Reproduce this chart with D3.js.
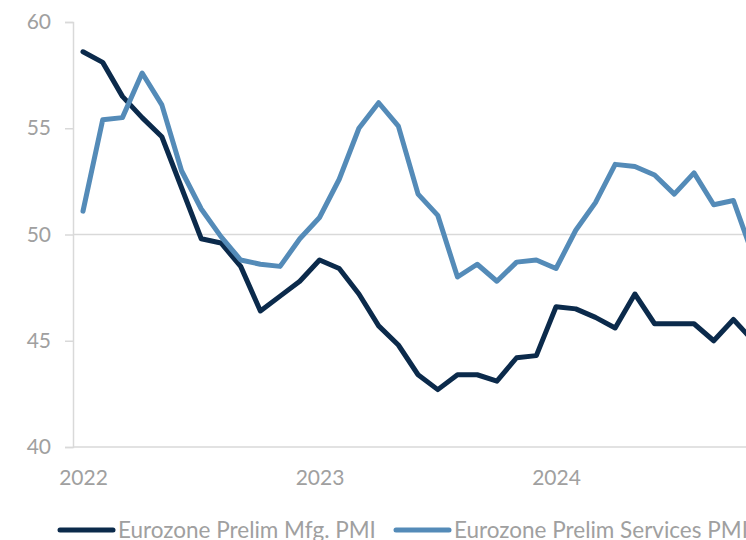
<!DOCTYPE html>
<html>
<head>
<meta charset="utf-8">
<script src="https://cdn.jsdelivr.net/npm/d3@7"></script>
<style>
  html, body { margin: 0; padding: 0; background: #fff; overflow: hidden; }
  svg { display: block; }
  text { font-family: Lato, "Noto Sans", sans-serif; fill: #a0a0a0; }
</style>
</head>
<body>
<svg id="chart" width="746" height="540"></svg>
<script>
const months = [
  "2022-01","2022-02","2022-03","2022-04","2022-05","2022-06","2022-07","2022-08","2022-09","2022-10","2022-11","2022-12",
  "2023-01","2023-02","2023-03","2023-04","2023-05","2023-06","2023-07","2023-08","2023-09","2023-10","2023-11","2023-12",
  "2024-01","2024-02","2024-03","2024-04","2024-05","2024-06","2024-07","2024-08","2024-09","2024-10","2024-11"
];
const mfgPMI = [
  58.6, 58.1, 56.5, 55.5, 54.6, 52.2, 49.8, 49.6, 48.5, 46.4, 47.1, 47.8,
  48.8, 48.4, 47.2, 45.7, 44.8, 43.4, 42.7, 43.4, 43.4, 43.1, 44.2, 44.3,
  46.6, 46.5, 46.1, 45.6, 47.2, 45.8, 45.8, 45.8, 45.0, 46.0, 45.0
];
const servicesPMI = [
  51.1, 55.4, 55.5, 57.6, 56.1, 53.0, 51.2, 49.9, 48.8, 48.6, 48.5, 49.8,
  50.8, 52.6, 55.0, 56.2, 55.1, 51.9, 50.9, 48.0, 48.6, 47.8, 48.7, 48.8,
  48.4, 50.2, 51.5, 53.3, 53.2, 52.8, 51.9, 52.9, 51.4, 51.6, 49.0
];
const seriesNames = ["Eurozone Prelim Mfg. PMI", "Eurozone Prelim Services PMI"];
const seriesColors = ["#0b2a4b", "#548bb8"];
const yTicks = [40, 45, 50, 55, 60];
const xTickMonths = ["2022-01", "2023-01", "2024-01"];
const xTickLabels = ["2022", "2023", "2024"];

const svg = d3.select("#chart");
const x = d3.scalePoint().domain(months).range([83, 83 + 34 * 19.71]);
const y = d3.scaleLinear().domain([40, 60]).range([447, 22]);

// gridline at 50
svg.append("line")
  .attr("x1", 73).attr("x2", 746)
  .attr("y1", y(50)).attr("y2", y(50))
  .attr("stroke", "#d9d9d9").attr("stroke-width", 1.5);

// y axis
const yAxis = svg.append("g").attr("transform", "translate(73,0)")
  .call(d3.axisLeft(y).tickValues(yTicks).tickSize(8).tickPadding(14).tickFormat(d3.format("d")));
yAxis.select(".domain").attr("stroke", "#d9d9d9").attr("stroke-width", 1.5);
yAxis.selectAll(".tick line").attr("stroke", "#d9d9d9").attr("stroke-width", 1.5);
yAxis.selectAll(".tick text").attr("fill", "#a0a0a0").style("font-size", "21px").style("font-family", "Lato");

// x axis
const xAxis = svg.append("g").attr("transform", `translate(0,${y(40)})`)
  .call(d3.axisBottom(x).tickValues(xTickMonths).tickSize(0).tickPadding(23)
    .tickFormat((d) => xTickLabels[xTickMonths.indexOf(d)]));
xAxis.select(".domain").attr("d", `M73,0H746`).attr("stroke", "#d9d9d9").attr("stroke-width", 1.5);
xAxis.selectAll(".tick text").attr("fill", "#a0a0a0").style("font-size", "21px").style("font-family", "Lato");

// lines
const seriesData = [mfgPMI, servicesPMI];
const line = d3.line().x((d, i) => x(months[i])).y((d) => y(d));
[0, 1].forEach((k) => {
  svg.append("path")
    .datum(seriesData[k])
    .attr("fill", "none")
    .attr("stroke", seriesColors[k])
    .attr("stroke-width", 5)
    .attr("stroke-linejoin", "round")
    .attr("stroke-linecap", "round")
    .attr("d", line);
});

// legend
const legendX = [60, 396];
seriesNames.forEach((name, k) => {
  const g = svg.append("g").attr("transform", `translate(${legendX[k]},530)`);
  g.append("line").attr("x1", 0).attr("x2", 53).attr("y1", 0).attr("y2", 0)
    .attr("stroke", seriesColors[k]).attr("stroke-width", 5).attr("stroke-linecap", "round");
  g.append("text").attr("x", 58).attr("y", 8).style("font-size", "22.5px").text(name);
});
</script>
</body>
</html>
